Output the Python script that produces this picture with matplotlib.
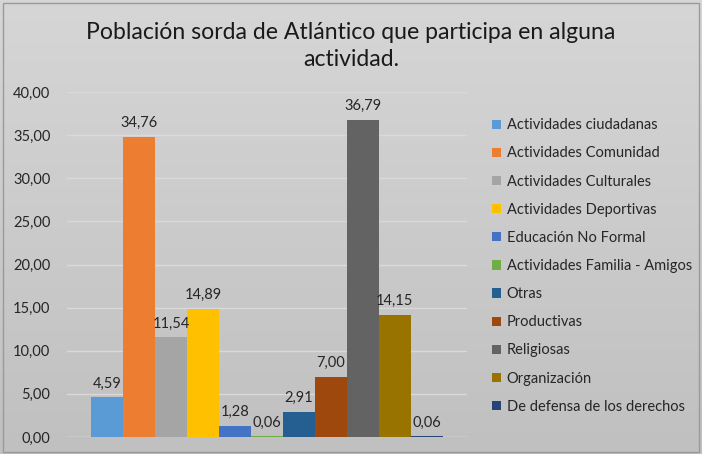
import numpy as np
import matplotlib
matplotlib.use('agg')
import matplotlib.pyplot as plt

categorias = ['Actividades ciudadanas', 'Actividades Comunidad', 'Actividades Culturales',
              'Actividades Deportivas', 'Educación No Formal', 'Actividades Familia - Amigos',
              'Otras', 'Productivas', 'Religiosas', 'Organización', 'De defensa de los derechos']
valores = [4.59, 34.76, 11.54, 14.89, 1.28, 0.06, 2.91, 7.00, 36.79, 14.15, 0.06]
colores = ['#5b9bd5', '#ed7d31', '#a5a5a5', '#ffc000', '#4472c4', '#70ad47',
           '#255e91', '#9e480e', '#636363', '#997300', '#264478']
ticks_y = [0, 5, 10, 15, 20, 25, 30, 35, 40]

plt.rcParams['font.family'] = ['Lato', 'DejaVu Sans']

fig = plt.figure(figsize=(7.02, 4.54), dpi=100)

# fondo con degradado gris
bg = fig.add_axes([0, 0, 1, 1], zorder=-10)
grad = np.linspace(0, 1, 256).reshape(-1, 1)
bg.imshow(grad, aspect='auto', cmap=matplotlib.colors.LinearSegmentedColormap.from_list(
    'g', ['#d6d6d6', '#c0c0c0']), extent=[0, 1, 0, 1], origin='upper')
bg.set_xlim(0, 1)
bg.set_ylim(0, 1)
bg.axis('off')
bg.add_patch(plt.Rectangle((0.004, 0.004), 0.992, 0.99, fill=False, ec='#9a9a9a', lw=1))

ax = fig.add_axes([67 / 702, 17 / 454, 400 / 702, 345 / 454])
ax.patch.set_alpha(0)

n = len(valores)
ancho = 0.8775 / n
xs = (np.arange(n) - (n - 1) / 2) * ancho
barras = ax.bar(xs, valores, width=ancho, color=colores, label=categorias, zorder=3)
for x, v in zip(xs, valores):
    ax.annotate(f'{v:.2f}'.replace('.', ','), (x, v), xytext=(0, 5), textcoords='offset points',
                ha='center', va='bottom', fontsize=10.5, color='#262626', zorder=4)

ax.set_xlim(-0.5, 0.5)
ax.set_ylim(0, 40)
ax.set_yticks(ticks_y)
ax.set_yticklabels([f'{t:.2f}'.replace('.', ',') for t in ticks_y], fontsize=10.5, color='#262626')
ax.set_xticks([])
ax.tick_params(axis='y', length=0, pad=12)
ax.grid(axis='y', color='#dadada', lw=1, zorder=0)
for s in ax.spines.values():
    s.set_visible(False)
ax.axhline(0, color='#d9d9d9', lw=1, zorder=2)

fig.text(0.5, 1 - 46 / 454, 'Población sorda de Atlántico que participa en alguna\nactividad.',
         ha='center', va='center', fontsize=16.6, color='#1a1a1a', linespacing=1.4)

fig.legend(handles=barras.patches, labels=categorias, loc='upper left',
           bbox_to_anchor=(485 / 702, 1 - 111 / 454), frameon=False, fontsize=10.5,
           handlelength=0.6, handleheight=0.6, handletextpad=0.4, labelspacing=0.97,
           labelcolor='#262626', borderpad=0)

fig.savefig('out.png', dpi=100)
